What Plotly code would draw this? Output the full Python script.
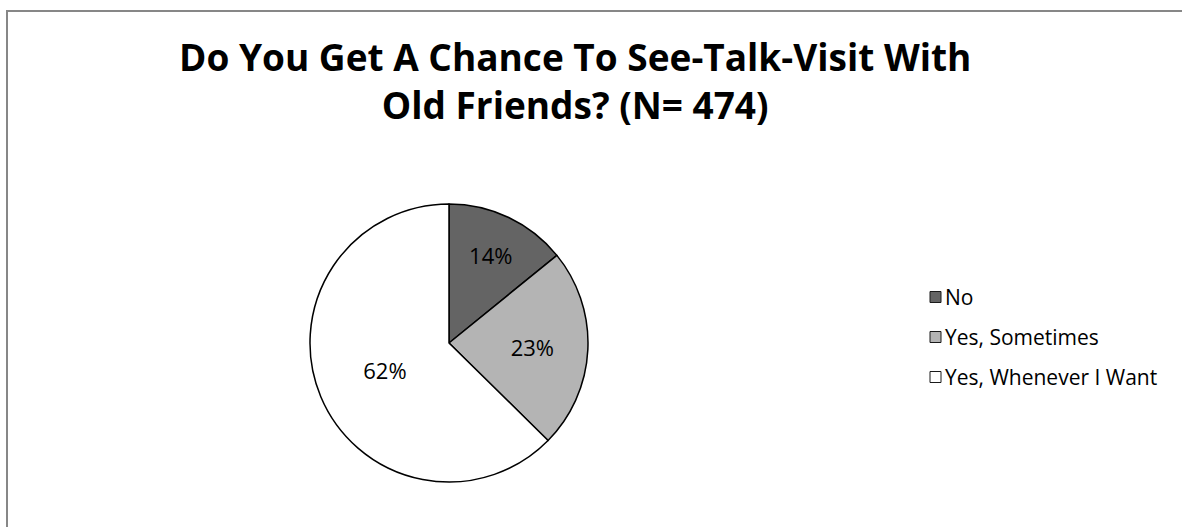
import plotly.graph_objects as go

# Survey responses (percent of respondents)
categories = ["No", "Yes, Sometimes", "Yes, Whenever I Want"]
percents = [14, 23, 62]
slice_colors = ["#646464", "#b4b4b4", "#ffffff"]

title_lines = ["Do You Get A Chance To See-Talk-Visit With", "Old Friends? (N= 474)"]

W, H = 1182, 527
FONT = "Open Sans"

fig = go.Figure(
    go.Pie(
        labels=categories,
        values=percents,
        sort=False,
        direction="clockwise",
        rotation=0,
        marker=dict(colors=slice_colors, line=dict(color="#000000", width=1.5)),
        texttemplate="%{value}%",
        textposition="inside",
        insidetextorientation="horizontal",
        textfont=dict(family=FONT, size=22, color="#000000"),
        showlegend=False,
        hoverinfo="label+value",
        domain=dict(x=[310 / W, 588 / W], y=[1 - 482 / H, 1 - 204 / H]),
    )
)

# Legend drawn as swatches with labels, one row per category
legend_x = 930
legend_y0 = 297
legend_step = 40
sw = 11
shapes = []
annotations = []
for i, (name, col) in enumerate(zip(categories, slice_colors)):
    yc = legend_y0 + i * legend_step
    shapes.append(dict(
        type="rect", xref="paper", yref="paper",
        x0=legend_x / W, x1=(legend_x + sw) / W,
        y0=1 - (yc + sw / 2) / H, y1=1 - (yc - sw / 2) / H,
        fillcolor=col, line=dict(color="#1a1a1a", width=1),
    ))
    annotations.append(dict(
        xref="paper", yref="paper", x=(legend_x + sw + 2) / W, y=1 - yc / H,
        xanchor="left", yanchor="middle", showarrow=False, text=name,
        font=dict(family=FONT, size=21, color="#000000"),
    ))

# Chart frame
shapes.append(dict(
    type="rect", xref="paper", yref="paper",
    x0=7 / W, x1=1.02, y0=-0.02, y1=1 - 11 / H,
    line=dict(color="#878787", width=2), fillcolor="rgba(0,0,0,0)",
))

# Two-line title, centred over the chart
annotations.append(dict(
    xref="paper", yref="paper", x=575 / W, y=1 - 80 / H,
    xanchor="center", yanchor="middle", showarrow=False,
    text="<br>".join(title_lines),
    font=dict(family=FONT, size=37, color="#000000", weight="bold"),
))

fig.update_layout(
    width=W, height=H,
    margin=dict(l=0, r=0, t=0, b=0),
    paper_bgcolor="#ffffff",
    plot_bgcolor="#ffffff",
    shapes=shapes,
    annotations=annotations,
)

fig.write_html("out.html")
